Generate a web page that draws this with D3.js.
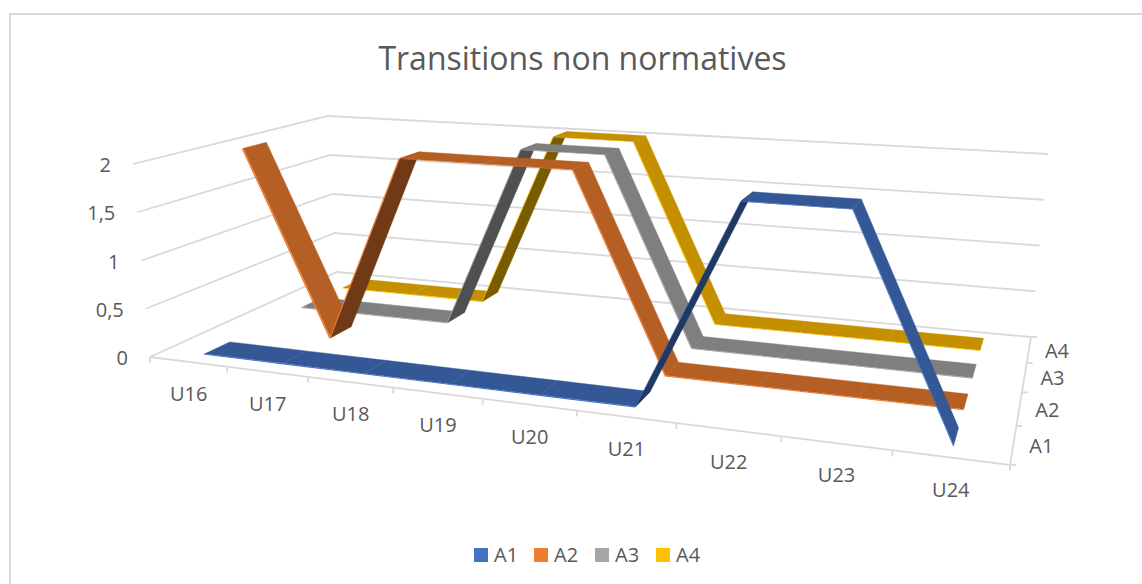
<!doctype html>
<html>
<head>
<meta charset="utf-8"/>
<title>Transitions non normatives</title>
<script src="https://cdnjs.cloudflare.com/ajax/libs/d3/7.8.5/d3.min.js"></script>
<style>
	body { margin: 0; background: #fff; }
	text { font-family: "Open Sans", "Noto Sans", sans-serif; fill: #595959; }
</style>
</head>
<body>
<svg id="chart" width="1142" height="584" style="display:block"></svg>
<script>
	var categories = ["U16", "U17", "U18", "U19", "U20", "U21", "U22", "U23", "U24"];
	var seriesNames = ["A1", "A2", "A3", "A4"];
	var A1 = [0, 0, 0, 0, 0, 0, 2, 2, 0];
	var A2 = [2, 0, 2, 2, 2, 0, 0, 0, 0];
	var A3 = [0, 0, 0, 2, 2, 0, 0, 0, 0];
	var A4 = [0, 0, 0, 2, 2, 0, 0, 0, 0];
	var valueTicks = [0, 0.5, 1, 1.5, 2];
	var tickLabels = ["0", "0,5", "1", "1,5", "2"];

	var seriesValues = [A1, A2, A3, A4];
	var edgeColors = ["#4472C4", "#ED7D31", "#A5A5A5", "#FFC000"];
	var faceColors = ["#345896", "#B55F24", "#7F7F7F", "#C49000"];
	var darkColors = ["#203864", "#703A16", "#505050", "#7A5C00"];

	// corners of the 3d box as they land on screen [front-left, front-right, back-right, back-left]
	var floorQuad = [[150, 357], [1010, 465], [1031, 337], [337, 272]];
	var topQuad = [[133, 164], [1033, 229], [1048, 154], [328, 116]];

	function squareToQuad(q) {
		var x0 = q[0][0], y0 = q[0][1], x1 = q[1][0], y1 = q[1][1];
		var x2 = q[2][0], y2 = q[2][1], x3 = q[3][0], y3 = q[3][1];
		var dx1 = x1 - x2, dx2 = x3 - x2, sx = x0 - x1 + x2 - x3;
		var dy1 = y1 - y2, dy2 = y3 - y2, sy = y0 - y1 + y2 - y3;
		var det = dx1 * dy2 - dx2 * dy1;
		var g = (sx * dy2 - dx2 * sy) / det;
		var h = (dx1 * sy - sx * dy1) / det;
		return function (u, v) {
			var w = g * u + h * v + 1;
			return [((x1 - x0 + g * x1) * u + (x3 - x0 + h * x3) * v + x0) / w,
				((y1 - y0 + g * y1) * u + (y3 - y0 + h * y3) * v + y0) / w];
		};
	}
	var floorMap = squareToQuad(floorQuad);
	var topMap = squareToQuad(topQuad);

	var xScale = d3.scaleBand().domain(categories).range([0, 1]);
	var zScale = d3.scaleBand().domain(seriesNames).range([0, 1]);
	var yScale = d3.scaleLinear().domain([0, 2]).range([0, 1]);

	function project(u, val, v) {
		var a = floorMap(u, v), b = topMap(u, v), t = yScale(val);
		return [a[0] + (b[0] - a[0]) * t, a[1] + (b[1] - a[1]) * t];
	}

	var svg = d3.select("#chart");
	var line = d3.line();

	svg.append("rect").attr("x", 10).attr("y", 14).attr("width", 1140).attr("height", 590)
		.attr("fill", "none").attr("stroke", "#D9D9D9").attr("stroke-width", 2);

	svg.append("text").attr("x", 582.5).attr("y", 70).attr("text-anchor", "middle")
		.style("font-size", "32px").text("Transitions non normatives");

	// walls and floor
	var grid = svg.append("g").attr("fill", "none").attr("stroke", "#D9D9D9").attr("stroke-width", 1.8);
	valueTicks.forEach(function (t) {
		grid.append("path").attr("d", line([project(0, t, 0), project(0, t, 1), project(1, t, 1)]));
	});
	grid.append("path").attr("d", line([project(0, 0, 0), project(1, 0, 0), project(1, 0, 1)]));

	// category ticks, on the band boundaries
	d3.range(categories.length + 1).forEach(function (i) {
		var p = project(i * xScale.step(), 0, 0);
		grid.append("path").attr("d", line([p, [p[0], p[1] + 6]]));
	});
	// series ticks on the right edge
	d3.range(seriesNames.length + 1).forEach(function (i) {
		var p = project(1, 0, i * zScale.step());
		grid.append("path").attr("d", line([p, [p[0] + 6, p[1]]]));
	});

	valueTicks.forEach(function (t, i) {
		var p = project(0, t, 0);
		svg.append("text").attr("x", p[0] - 22).attr("y", p[1] + 8).attr("text-anchor", "end")
			.style("font-size", "20px").text(tickLabels[i]);
	});
	categories.forEach(function (c) {
		var p = project(xScale(c) + xScale.bandwidth() / 2, 0, 0);
		svg.append("text").attr("x", p[0] + 0.5).attr("y", p[1] + 39).attr("text-anchor", "middle")
			.style("font-size", "20px").text(c);
	});
	seriesNames.forEach(function (s) {
		var p = project(1, 0, zScale(s) + zScale.bandwidth() / 2);
		svg.append("text").attr("x", p[0] + 16).attr("y", p[1] + 8)
			.style("font-size", "20px").text(s);
	});

	// ribbons, back series first, left to right
	var ribbonDepth = 0.47, bevel = 0.03;
	d3.range(seriesNames.length - 1, -1, -1).forEach(function (s) {
		var name = seriesNames[s], vals = seriesValues[s];
		var zMid = zScale(name) + zScale.bandwidth() / 2;
		var z0 = zMid - zScale.bandwidth() * 0.2;
		var z1 = z0 + zScale.bandwidth() * ribbonDepth;
		var zb = z0 - zScale.bandwidth() * bevel;
		var g = svg.append("g").attr("class", "ribbon " + name);
		d3.range(vals.length - 1).forEach(function (i) {
			var ua = xScale(categories[i]) + xScale.bandwidth() / 2;
			var ub = xScale(categories[i + 1]) + xScale.bandwidth() / 2;
			var face = vals[i + 1] > vals[i] ? darkColors[s] : faceColors[s];
			g.append("path").attr("fill", face).attr("stroke", face).attr("stroke-width", 0.4)
				.attr("d", line([project(ua, vals[i], z0), project(ub, vals[i + 1], z0),
					project(ub, vals[i + 1], z1), project(ua, vals[i], z1)]) + "Z");
			g.append("path").attr("fill", edgeColors[s])
				.attr("d", line([project(ua, vals[i], zb), project(ub, vals[i + 1], zb),
					project(ub, vals[i + 1], z0), project(ua, vals[i], z0)]) + "Z");
		});
	});

	// legend
	var legendX = d3.scaleOrdinal().domain(seriesNames).range([474, 534, 595, 656]);
	seriesNames.forEach(function (s, i) {
		svg.append("rect").attr("x", legendX(s)).attr("y", 548).attr("width", 14).attr("height", 14)
			.attr("fill", edgeColors[i]);
		svg.append("text").attr("x", legendX(s) + 20).attr("y", 562)
			.style("font-size", "20px").text(s);
	});
</script>
</body>
</html>
